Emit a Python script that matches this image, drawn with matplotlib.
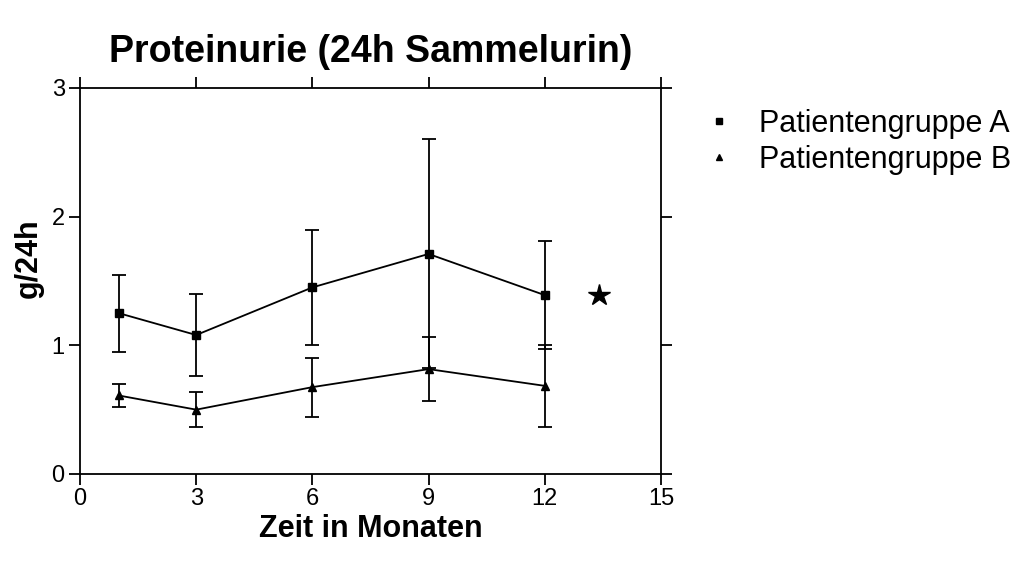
import matplotlib.pyplot as plt
from matplotlib.lines import Line2D

plt.rcParams['font.family'] = ['Liberation Sans', 'DejaVu Sans']

monate = [1, 3, 6, 9, 12]
gruppe_a = [1.25, 1.08, 1.45, 1.71, 1.39]
fehler_a = [0.30, 0.32, 0.45, 0.89, 0.42]
gruppe_b = [0.61, 0.50, 0.675, 0.815, 0.685]
fehler_b = [0.09, 0.135, 0.23, 0.25, 0.32]
stern = (13.4, 1.39)

fig = plt.figure(figsize=(10.23, 5.62), dpi=100)
ax = fig.add_axes([0.0782, 0.1566, 0.5679, 0.6869])

ax.errorbar(monate, gruppe_a, yerr=fehler_a, color='black', marker='s', markersize=6,
            linewidth=1.3, elinewidth=1.3, capsize=5, capthick=1.3)
ax.errorbar(monate, gruppe_b, yerr=fehler_b, color='black', marker='^', markersize=6,
            linewidth=1.3, elinewidth=1.3, capsize=5, capthick=1.3)
ax.plot(*stern, marker='*', color='black', markersize=16, linestyle='none')

ax.set_xlim(0, 15)
ax.set_ylim(0, 3)
ax.set_xticks([0, 3, 6, 9, 12, 15])
ax.set_yticks([0, 1, 2, 3])
ax.tick_params(direction='out', top=True, right=True, length=8, width=1.3,
               labelsize=17, pad=3)
ax.tick_params(axis='x', pad=2)
for s in ax.spines.values():
    s.set_linewidth(1.3)

ax.set_title('Proteinurie (24h Sammelurin)', fontsize=27, fontweight='bold', pad=19)
ax.set_xlabel('Zeit in Monaten', fontsize=22, fontweight='bold', labelpad=3)
ax.set_ylabel('g/24h', fontsize=22, fontweight='bold')
ax.yaxis.set_label_coords(-0.062, 0.56)

handles = [Line2D([], [], color='black', marker='s', markersize=5, linestyle='none'),
           Line2D([], [], color='black', marker='^', markersize=5, linestyle='none')]
fig.legend(handles, ['Patientengruppe A', 'Patientengruppe B'], loc='upper left',
           bbox_to_anchor=(0.688, 0.806), frameon=False, fontsize=22,
           borderaxespad=0, borderpad=0, handletextpad=0.8, labelspacing=0.2,
           handlelength=1.0)

fig.savefig('out.png', dpi=100)
